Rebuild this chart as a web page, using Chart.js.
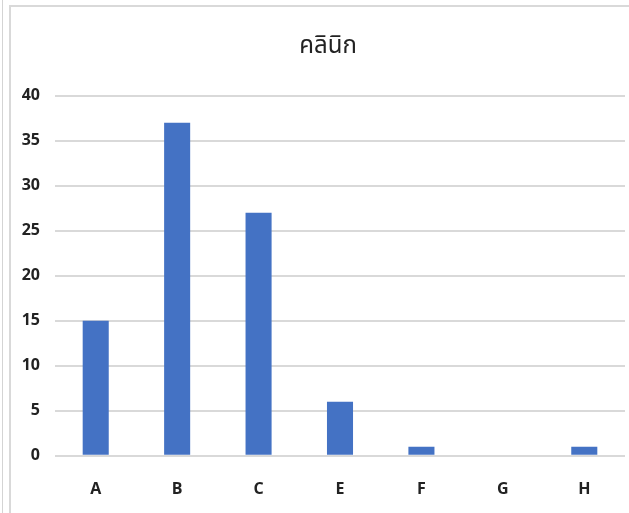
<!DOCTYPE html>
<html>
<head>
<meta charset="utf-8">
<script src="https://cdn.jsdelivr.net/npm/chart.js@4"></script>
<style>
  html, body { margin: 0; padding: 0; background: #ffffff; }
  body { width: 629px; height: 513px; position: relative; overflow: hidden; }
  .edge { position: absolute; left: 2px; top: 0; width: 1px; height: 513px; background: #d4d4d4; }
  .frame {
    position: absolute; left: 9px; top: 5px; width: 620px; height: 508px;
    border-left: 2px solid #d9d9d9; border-top: 2px solid #d9d9d9; box-sizing: border-box;
  }
  .plot { position: absolute; left: 0; top: 0; width: 618px; height: 516px; }
  .plot canvas { display: block; }
</style>
</head>
<body>
<div class="edge"></div>
<div class="frame"><div class="plot"><canvas id="c"></canvas></div></div>
<script>
const categories = ['A', 'B', 'C', 'E', 'F', 'G', 'H'];
const clinicCounts = [15, 37, 27, 6, 1, 0, 1];
const yTicks = [0, 5, 10, 15, 20, 25, 30, 35, 40];
const chartTitle = 'คลินิก';

const labelFont = { family: "'Liberation Sans Narrow', 'Open Sans', sans-serif", size: 16, weight: 'bold' };

// Centre the title a little right of the canvas middle, over the plotting region.
const titleOffset = {
  id: 'titleOffset',
  afterLayout(chart) {
    if (chart.titleBlock) chart.titleBlock.left += 16;
  }
};

new Chart(document.getElementById('c'), {
  type: 'bar',
  data: {
    labels: categories,
    datasets: [{
      data: clinicCounts,
      backgroundColor: '#4472C4',
      borderWidth: 0,
      categoryPercentage: 1,
      barPercentage: 0.32
    }]
  },
  options: {
    responsive: true,
    maintainAspectRatio: false,
    animation: false,
    layout: { padding: { left: 4, right: 4, top: 25, bottom: 0 } },
    plugins: {
      legend: { display: false },
      tooltip: { enabled: false },
      title: {
        display: true,
        text: chartTitle,
        color: '#222222',
        font: { family: "'Noto Sans', 'Noto Sans Thai', 'DejaVu Sans', sans-serif", size: 24, weight: 'normal' },
        padding: { top: 0, bottom: 35 }
      }
    },
    scales: {
      x: {
        grid: { display: false, drawTicks: false },
        border: { display: false },
        ticks: { color: '#222222', font: labelFont, padding: 24 }
      },
      y: {
        min: 0,
        max: 40,
        afterBuildTicks: (axis) => { axis.ticks = yTicks.map(v => ({ value: v })); },
        afterFit: (axis) => { axis.width = 40; },
        grid: { color: '#d9d9d9', lineWidth: 2, drawTicks: false },
        border: { display: false },
        ticks: { color: '#222222', font: labelFont, padding: 15 }
      }
    }
  },
  plugins: [titleOffset]
});
</script>
</body>
</html>
